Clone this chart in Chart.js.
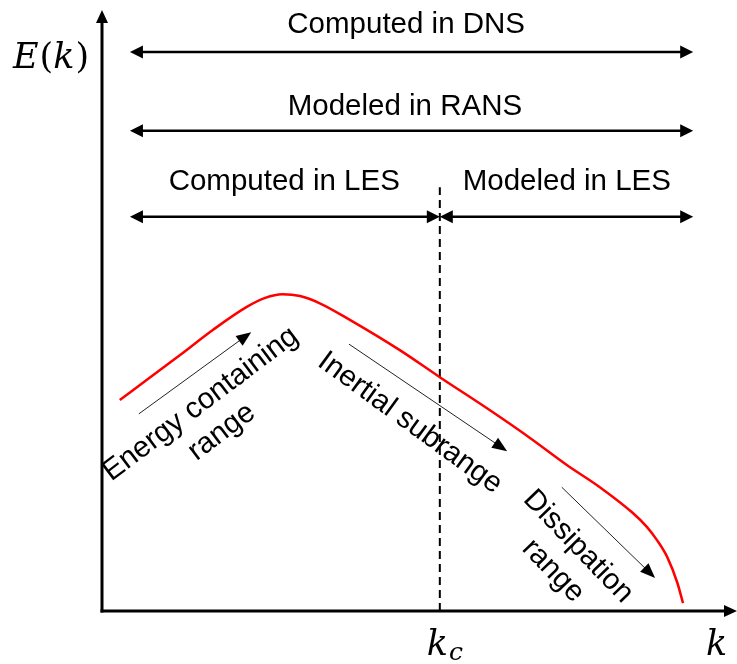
<!DOCTYPE html>
<html>
<head>
<meta charset="utf-8">
<script src="https://cdn.jsdelivr.net/npm/chart.js@4"></script>
<style>
  html, body { margin: 0; padding: 0; background: #fff; }
</style>
</head>
<body>
<canvas id="myChart" width="737" height="664"></canvas>
<script>
// energy spectrum E(k) (axes run 0..100 in both directions)
const curveK = [2.8, 7.6, 12.3, 17.5, 22.8, 25.7, 28.4, 31.2, 34.3, 39.1, 46.9, 53.2, 61.1, 67.4, 73.2, 78.4, 83.6, 85.8, 87.4, 89.0, 90.6, 91.5];
const curveE = [35.1, 38.9, 42.6, 46.8, 50.6, 52.1, 52.7, 52.4, 51.2, 48.4, 43.4, 38.9, 33.4, 28.8, 24.3, 20.6, 16.3, 14.0, 11.8, 9.0, 4.7, 1.3];

// cutoff wavenumber and the top of its dashed line
const kc = 53.2;
const kcTop = 70.5;

// double arrows with their labels
const spanLabels = ['Computed in DNS', 'Modeled in RANS', 'Computed in LES', 'Modeled in LES'];
const spanStart = [4.4, 4.4, 4.4, kc];
const spanEnd = [93.1, 93.1, kc, 93.1];
const spanLevel = [93.0, 79.9, 65.6, 65.6];
const spanLabelX = [47.9, 47.7, 28.7, 73.2];
const spanLabelY = [96.2, 82.5, 70.0, 70.0];

// the three ranges: rotated labels and thin arrows
const regionLabels = [['Energy containing', 'range'], ['Inertial subrange'], ['Dissipation', 'range']];
const regionX = [17.2, 48.5, 73.0];
const regionY = [32.1, 31.3, 8.7];
const regionAngle = [-37, 36, 46];
const arrowFromK = [5.8, 38.9, 72.4];
const arrowFromE = [32.8, 44.4, 20.6];
const arrowToK = [23.5, 63.8, 87.1];
const arrowToE = [46.4, 26.6, 5.5];

function arrowHead(ctx, x1, y1, x2, y2, len, half) {
    const a = Math.atan2(y2 - y1, x2 - x1);
    ctx.beginPath();
    ctx.moveTo(x2, y2);
    ctx.lineTo(x2 - len * Math.cos(a) + half * Math.sin(a), y2 - len * Math.sin(a) - half * Math.cos(a));
    ctx.lineTo(x2 - len * Math.cos(a) - half * Math.sin(a), y2 - len * Math.sin(a) + half * Math.cos(a));
    ctx.closePath();
    ctx.fill();
}

function arrow(ctx, x1, y1, x2, y2, width, len, half, both) {
    const a = Math.atan2(y2 - y1, x2 - x1);
    const sx = both ? x1 + (len - 1) * Math.cos(a) : x1;
    const sy = both ? y1 + (len - 1) * Math.sin(a) : y1;
    ctx.lineWidth = width;
    ctx.beginPath();
    ctx.moveTo(sx, sy);
    ctx.lineTo(x2 - (len - 1) * Math.cos(a), y2 - (len - 1) * Math.sin(a));
    ctx.stroke();
    arrowHead(ctx, x1, y1, x2, y2, len, half);
    if (both) arrowHead(ctx, x2, y2, x1, y1, len, half);
}

// draws math-style text: letters italic, brackets upright
function mathText(ctx, parts, x, y, size) {
    let cx = x;
    parts.forEach(function (p) {
        ctx.font = (p.italic ? 'italic ' : '') + (p.size || size) + 'px "DejaVu Serif"';
        ctx.fillText(p.t, cx, y + (p.dy || 0));
        cx += ctx.measureText(p.t).width + (p.gap || 0);
    });
}

const annotations = {
    id: 'annotations',
    afterDatasetsDraw(chart) {
        const ctx = chart.ctx;
        const xs = chart.scales.x;
        const ys = chart.scales.y;
        const px = v => xs.getPixelForValue(v);
        const py = v => ys.getPixelForValue(v);
        ctx.save();
        ctx.fillStyle = '#000';
        ctx.strokeStyle = '#000';

        // axes
        arrow(ctx, px(0), py(0) + 1.5, px(0), py(100), 3, 13, 6, false);
        arrow(ctx, px(0) - 1.5, py(0), px(100), py(0), 3, 13, 6, false);

        // spans
        ctx.textAlign = 'center';
        ctx.textBaseline = 'alphabetic';
        ctx.font = '29.5px "Liberation Sans", Arial, sans-serif';
        for (let i = 0; i < spanLabels.length; i++) {
            arrow(ctx, px(spanStart[i]), py(spanLevel[i]), px(spanEnd[i]), py(spanLevel[i]), 2.5, 13, 6.5, true);
            ctx.fillText(spanLabels[i], px(spanLabelX[i]), py(spanLabelY[i]));
        }

        // ranges
        ctx.strokeStyle = '#222';
        ctx.fillStyle = '#000';
        for (let i = 0; i < regionLabels.length; i++) {
            arrow(ctx, px(arrowFromK[i]), py(arrowFromE[i]), px(arrowToK[i]), py(arrowToE[i]), 1, 15, 6, false);
            ctx.save();
            ctx.translate(px(regionX[i]), py(regionY[i]));
            ctx.rotate(regionAngle[i] * Math.PI / 180);
            ctx.font = '29.5px "Liberation Sans", Arial, sans-serif';
            ctx.textAlign = 'center';
            ctx.textBaseline = 'middle';
            const lines = regionLabels[i];
            const lh = 35;
            lines.forEach(function (t, j) {
                ctx.fillText(t, 0, (j - (lines.length - 1) / 2) * lh);
            });
            ctx.restore();
        }

        // axis labels
        ctx.textAlign = 'left';
        ctx.fillStyle = '#000';
        mathText(ctx, [{t: 'E', italic: true, gap: 1}, {t: '('}, {t: 'k', italic: true, gap: 1}, {t: ')'}], px(0) - 89, py(0) - 543, 35);
        mathText(ctx, [{t: 'k', italic: true}], px(100) - 31, py(0) + 44, 35);
        mathText(ctx, [{t: 'k', italic: true, gap: 1}, {t: 'c', italic: true, size: 25, dy: 5}], px(kc) - 13, py(0) + 44, 35);

        ctx.restore();
    }
};

new Chart(document.getElementById('myChart'), {
    type: 'line',
    data: {
        datasets: [
            {
                data: curveK.map((k, i) => ({x: k, y: curveE[i]})),
                borderColor: '#ff0000',
                borderWidth: 2.5,
                pointRadius: 0,
                cubicInterpolationMode: 'monotone',
                fill: false
            },
            {
                data: [{x: kc, y: 0}, {x: kc, y: kcTop}],
                borderColor: '#000',
                borderWidth: 2,
                borderDash: [8, 5],
                pointRadius: 0,
                fill: false
            }
        ]
    },
    options: {
        responsive: false,
        animation: false,
        devicePixelRatio: 1,
        layout: {padding: {left: 102, right: 0, top: 10, bottom: 53}},
        plugins: {legend: {display: false}, tooltip: {enabled: false}},
        scales: {
            x: {type: 'linear', min: 0, max: 100, display: false},
            y: {type: 'linear', min: 0, max: 100, display: false}
        }
    },
    plugins: [annotations]
});
</script>
</body>
</html>
